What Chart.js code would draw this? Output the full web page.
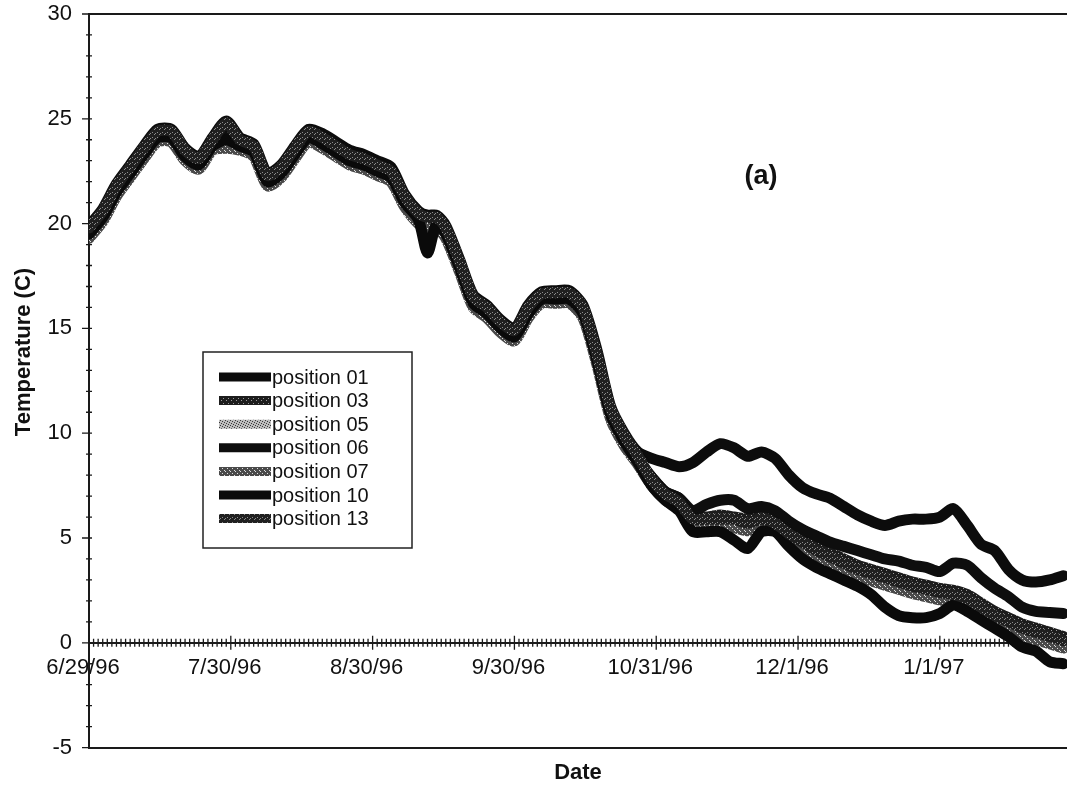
<!DOCTYPE html>
<html>
<head>
<meta charset="utf-8">
<title>Temperature by position</title>
<script src="https://cdn.jsdelivr.net/npm/chart.js@4.4.1/dist/chart.umd.min.js"></script>
<style>
  body{margin:0;background:#fff;}
  #wrap{width:1067px;height:789px;}
</style>
</head>
<body>
<div id="wrap"><canvas id="tempChart" width="1067" height="789"></canvas></div>
<script>
// ==========================
// DATA (days counted from 6/29/96)
// ==========================
const sampleDays = [0,3,6,9,12,15,18,21,24,27,30,33,36,39,42,45,48,51,54,57,60,63,66,69,72,74,76,78,
  81,84,87,90,93,96,99,102,105,108,111,114,117,120,123,126,129,132,135,138,141,144,147,150,153,156,
  159,162,165,168,171,174,177,180,183,186,189,192,195,198,201,204,207,210,213];

const pos01 = [19.9,20.7,21.9,22.8,23.7,24.5,24.5,23.6,23.2,24.1,24.9,24.1,23.8,22.4,22.8,23.7,24.5,24.3,23.9,23.5,
  23.3,23.0,22.7,21.4,20.6,20.4,20.4,19.9,18.3,16.6,16.1,15.4,15.0,16.1,16.75,16.8,16.8,16.1,14.0,11.3,10.0,9.1,
  8.8,8.6,8.4,8.6,9.1,9.5,9.3,8.9,9.1,8.8,8.0,7.4,7.1,6.9,6.5,6.1,5.8,5.6,5.8,5.9,5.9,6.0,6.4,5.6,4.7,4.4,3.5,3.0,2.9,3.0,3.2];
const pos03 = [19.7,20.5,21.7,22.6,23.5,24.3,24.4,23.5,23.0,23.9,24.6,24.0,23.6,22.2,22.6,23.5,24.3,24.0,23.6,23.2,
  23.0,22.7,22.4,21.2,20.4,20.2,20.2,19.7,18.1,16.4,15.9,15.2,14.8,15.9,16.6,16.6,16.6,15.9,13.7,11.1,9.8,8.8,
  7.9,7.2,6.9,6.1,6.0,6.1,6.0,5.9,6.0,5.9,5.4,5.0,4.6,4.3,4.0,3.7,3.5,3.3,3.1,2.9,2.75,2.6,2.5,2.3,1.9,1.5,1.2,0.9,0.7,0.5,0.3];
const pos05 = [19.5,20.3,21.4,22.3,23.2,24.0,24.0,23.2,22.8,23.6,23.8,23.6,23.3,22.0,22.3,23.3,24.0,23.8,23.4,23.0,
  22.8,22.5,22.2,21.0,20.2,20.0,20.0,19.5,17.9,16.2,15.7,15.0,14.6,15.7,16.3,16.4,16.4,15.7,13.5,10.9,9.6,8.6,
  7.7,7.0,6.6,5.8,5.8,5.8,5.8,5.6,5.8,5.6,5.1,4.7,4.3,4.0,3.7,3.4,3.2,3.0,2.8,2.6,2.45,2.3,2.2,2.0,1.6,1.2,0.9,0.6,0.4,0.2,0.0];
const pos06 = [19.6,20.4,21.6,22.5,23.4,24.2,24.3,23.3,22.9,23.8,24.4,23.8,23.5,22.1,22.5,23.4,24.2,23.9,23.5,23.1,
  22.9,22.6,22.3,21.1,20.3,20.1,20.1,19.6,18.0,16.3,15.8,15.1,14.7,15.8,16.5,16.5,16.5,15.8,13.6,11.0,9.7,8.7,
  7.9,7.2,6.9,6.3,6.6,6.8,6.8,6.4,6.5,6.3,5.8,5.4,5.1,4.8,4.6,4.4,4.2,4.0,3.9,3.7,3.6,3.4,3.8,3.7,3.1,2.6,2.2,1.7,1.5,1.45,1.4];
const pos07 = [19.3,20.1,21.3,22.2,23.1,23.9,23.9,23.0,22.6,23.5,23.6,23.5,23.2,21.8,22.2,23.1,23.9,23.6,23.2,22.8,
  22.6,22.3,22.0,20.8,20.0,19.8,19.8,19.3,17.7,16.0,15.5,14.8,14.4,15.5,16.2,16.2,16.2,15.5,13.3,10.7,9.4,8.5,
  7.5,6.8,6.4,5.6,5.6,5.55,5.5,5.35,5.55,5.35,4.85,4.45,4.05,3.75,3.45,3.15,2.95,2.75,2.55,2.35,2.2,2.05,1.95,1.75,1.35,0.95,0.65,0.35,0.15,-0.05,-0.25];
const pos10 = [19.5,20.3,21.5,22.4,23.3,24.1,24.1,23.2,22.8,23.7,24.0,23.7,23.4,22.0,22.4,23.3,24.1,23.8,23.4,23.0,
  22.8,22.5,22.2,21.0,20.2,18.6,20.0,19.5,17.9,16.2,15.7,15.0,14.6,15.7,16.4,16.4,16.4,15.7,13.5,10.9,9.6,8.6,
  7.5,6.8,6.3,5.3,5.3,5.3,4.9,4.5,5.3,5.3,4.6,4.0,3.6,3.3,3.0,2.7,2.3,1.7,1.3,1.2,1.2,1.4,1.8,1.5,1.1,0.7,0.3,-0.2,-0.4,-0.9,-1.0];
const pos13 = [19.8,20.6,21.8,22.7,23.6,24.4,24.4,23.5,23.1,24.0,24.8,24.0,23.7,22.3,22.7,23.6,24.4,24.1,23.7,23.3,
  23.1,22.8,22.5,21.3,20.5,20.3,20.3,19.8,18.2,16.5,16.0,15.3,14.9,16.0,16.65,16.7,16.7,16.0,13.8,11.2,9.9,8.9,
  7.8,7.1,6.7,5.9,5.9,5.9,5.9,5.7,5.9,5.7,5.2,4.8,4.4,4.1,3.8,3.5,3.3,3.1,2.9,2.7,2.55,2.4,2.3,2.1,1.7,1.3,1.0,0.7,0.5,0.3,0.1];

const seriesNames = ["position 01","position 03","position 05","position 06","position 07","position 10","position 13"];
const seriesValues = [pos01,pos03,pos05,pos06,pos07,pos10,pos13];

const tickDays = [0,31,62,93,124,155,186];
const tickLabels = ["6/29/96","7/30/96","8/30/96","9/30/96","10/31/96","12/1/96","1/1/97"];
const tempTicks = [-5,0,5,10,15,20,25,30];

const FONT = "'Liberation Sans', Arial, Helvetica, sans-serif";
Chart.defaults.font.family = FONT;
Chart.defaults.color = "#111";

// ==========================
// GRAINY LINE FILLS
// ==========================
function speckle(base, dotColor, dots){
  const c = document.createElement("canvas");
  c.width = 5; c.height = 5;
  const g = c.getContext("2d");
  g.fillStyle = base; g.fillRect(0,0,5,5);
  g.fillStyle = dotColor;
  dots.forEach(d => g.fillRect(d[0], d[1], 1, 1));
  return g.createPattern(c, "repeat");
}

const lineStyles = [
  "#0c0c0c",
  speckle("#1c1c1c", "#9a9a9a", [[1,0],[3,3]]),
  speckle("#bdbdbd", "#3a3a3a", [[0,0],[2,1],[4,2],[1,3],[3,4]]),
  "#0e0e0e",
  speckle("#4a4a4a", "#dddddd", [[0,1],[2,3],[4,0]]),
  "#0a0a0a",
  speckle("#202020", "#8c8c8c", [[2,2],[4,4],[0,3]])
];

const datasets = seriesNames.map((name, i) => ({
  label: name,
  data: sampleDays.map((d, k) => ({x: d, y: seriesValues[i][k]})),
  borderColor: lineStyles[i],
  borderWidth: 11,
  pointRadius: 0,
  tension: 0.25,
  borderJoinStyle: "round",
  borderCapStyle: "round",
  order: seriesNames.length - i
}));

// ==========================
// PLUGINS: crossing ticks, legend box, labels
// ==========================
const crossTicks = {
  id: "crossTicks",
  beforeDatasetsDraw(chart){
    const {ctx, chartArea, scales:{x, y}} = chart;
    const y0 = y.getPixelForValue(0);
    const x0 = chartArea.left;
    ctx.save();
    ctx.strokeStyle = "#1a1a1a";
    ctx.lineWidth = 1.3;
    ctx.beginPath();
    for(let d = 0; d <= x.max; d++){
      const px = x.getPixelForValue(d);
      const len = tickDays.includes(d) ? 7 : 4;
      ctx.moveTo(px, y0 - len); ctx.lineTo(px, y0 + len);
    }
    for(let v = y.min; v <= y.max; v++){
      const py = y.getPixelForValue(v);
      const major = v % 5 === 0;
      ctx.moveTo(x0 - (major ? 7 : 3), py); ctx.lineTo(x0 + 3, py);
    }
    ctx.stroke();
    ctx.restore();
  }
};

const boxLegend = {
  id: "boxLegend",
  afterDraw(chart){
    const {ctx, chartArea} = chart;
    const left = chartArea.left + 114, top = chartArea.top + 338;
    const w = 209, h = 196;
    ctx.save();
    ctx.fillStyle = "#fff";
    ctx.fillRect(left, top, w, h);
    ctx.strokeStyle = "#222";
    ctx.lineWidth = 1.5;
    ctx.strokeRect(left, top, w, h);
    ctx.font = "20px " + FONT;
    ctx.textBaseline = "middle";
    chart.data.datasets.forEach((ds, i) => {
      const rowY = top + 25 + i * 23.6;
      ctx.strokeStyle = ds.borderColor;
      ctx.lineWidth = 9;
      ctx.lineCap = "butt";
      ctx.beginPath();
      ctx.moveTo(left + 16, rowY); ctx.lineTo(left + 68, rowY);
      ctx.stroke();
      ctx.fillStyle = "#111";
      ctx.fillText(ds.label, left + 69, rowY + 1);
    });
    ctx.restore();
  }
};

const extraText = {
  id: "extraText",
  afterDraw(chart){
    const {ctx, chartArea} = chart;
    ctx.save();
    ctx.fillStyle = "#111";
    ctx.textAlign = "center";
    ctx.textBaseline = "middle";
    // panel tag
    ctx.font = "bold 27px " + FONT;
    ctx.fillText("(a)", chartArea.left + 672, chartArea.top + 163);
    // y axis title
    ctx.translate(24, chartArea.top + 338);
    ctx.rotate(-Math.PI / 2);
    ctx.font = "bold 22px " + FONT;
    ctx.fillText("Temperature (C)", 0, 0);
    ctx.restore();
  }
};

// ==========================
// CHART
// ==========================
const tempChart = new Chart(document.getElementById("tempChart"), {
  type: "line",
  data: { datasets },
  plugins: [crossTicks, boxLegend, extraText],
  options: {
    responsive: false,
    animation: false,
    devicePixelRatio: 1,
    layout: { padding: 0 },
    plugins: {
      legend: { display: false },
      tooltip: { enabled: false },
      title: {
        display: true,
        text: "Date",
        position: "bottom",
        fullSize: false,
        color: "#111",
        font: { size: 22, weight: "bold", lineHeight: 1.2 },
        padding: { top: 12, bottom: 3 }
      }
    },
    scales: {
      x: {
        type: "linear",
        position: { y: 0 },
        min: 0,
        max: 213.8,
        afterBuildTicks: s => { s.ticks = tickDays.map(v => ({ value: v })); },
        ticks: {
          autoSkip: false,
          maxRotation: 0,
          padding: 12,
          labelOffset: -6,
          font: { size: 22 },
          color: "#111",
          callback: v => tickLabels[tickDays.indexOf(v)]
        },
        grid: { drawOnChartArea: false, drawTicks: false },
        border: { color: "#1a1a1a", width: 2 }
      },
      y: {
        min: -5,
        max: 30,
        afterBuildTicks: s => { s.ticks = tempTicks.map(v => ({ value: v })); },
        // fixed axis width and room above the "30" label
        afterFit: s => { s.width = 89; s.paddingTop = 14; s.paddingBottom = 14; },
        ticks: { padding: 17, font: { size: 22 }, color: "#111" },
        grid: {
          drawTicks: false,
          lineWidth: 2,
          color: c => (c.tick && (c.tick.value === 30 || c.tick.value === -5)) ? "#1a1a1a" : "rgba(0,0,0,0)"
        },
        border: { color: "#1a1a1a", width: 2 }
      }
    }
  }
});
</script>
</body>
</html>
